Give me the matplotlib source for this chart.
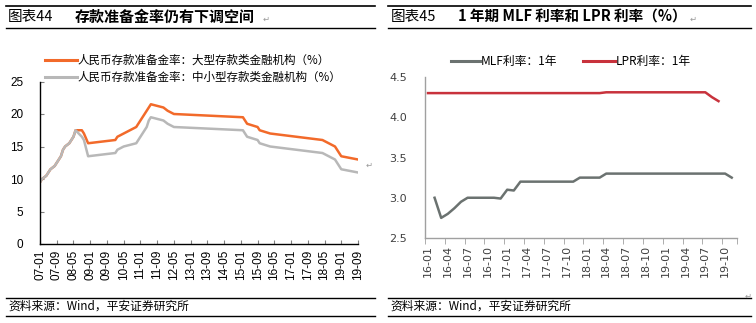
import matplotlib
matplotlib.use("Agg")
import matplotlib.pyplot as plt
from matplotlib.lines import Line2D

plt.rcParams['font.family'] = ['Noto Sans CJK SC', 'DejaVu Sans']

# ---------------- Data: left chart (reserve requirement ratio, %) ----------------
rrr_dates = ['07-01', '07-02', '07-04', '07-05', '07-06', '07-08', '07-09', '07-10', '07-11', '07-12',
             '08-01', '08-03', '08-04', '08-05', '08-06', '08-09', '08-10', '08-12',
             '10-01', '10-02', '10-05', '10-11', '10-12',
             '11-01', '11-02', '11-03', '11-04', '11-05', '11-06', '11-12',
             '12-02', '12-05', '15-02', '15-04', '15-09', '15-10', '16-03',
             '18-04', '18-10', '19-01', '19-09']
rrr_large = [9.5, 10.0, 10.5, 11.0, 11.5, 12.0, 12.5, 13.0, 13.5, 14.5,
             15.0, 15.5, 16.0, 16.5, 17.5, 17.5, 17.0, 15.5,
             16.0, 16.5, 17.0, 18.0, 18.5,
             19.0, 19.5, 20.0, 20.5, 21.0, 21.5, 21.0,
             20.5, 20.0, 19.5, 18.5, 18.0, 17.5, 17.0,
             16.0, 15.0, 13.5, 13.0]
rrr_small = [9.5, 10.0, 10.5, 11.0, 11.5, 12.0, 12.5, 13.0, 13.5, 14.5,
             15.0, 15.5, 16.0, 16.5, 17.5, 16.5, 16.0, 13.5,
             14.0, 14.5, 15.0, 15.5, 16.0,
             16.5, 17.0, 17.5, 18.0, 19.0, 19.5, 19.0,
             18.5, 18.0, 17.5, 16.5, 16.0, 15.5, 15.0,
             14.0, 13.0, 11.5, 11.0]
left_ticklabels = ['07-01', '07-09', '08-05', '09-01', '09-09', '10-05', '11-01', '11-09', '12-05', '13-01',
                   '13-09', '14-05', '15-01', '15-09', '16-05', '17-01', '17-09', '18-05', '19-01', '19-09']
left_labels = ['人民币存款准备金率：大型存款类金融机构（%）', '人民币存款准备金率：中小型存款类金融机构（%）']

# ---------------- Data: right chart (MLF & LPR 1Y, %) ----------------
rate_months = ['16-01', '16-02', '16-03', '16-04', '16-05', '16-06', '16-07', '16-08', '16-09', '16-10',
               '16-11', '16-12', '17-01', '17-02', '17-03', '17-04', '17-05', '17-06', '17-07', '17-08',
               '17-09', '17-10', '17-11', '17-12', '18-01', '18-02', '18-03', '18-04', '18-05', '18-06',
               '18-07', '18-08', '18-09', '18-10', '18-11', '18-12', '19-01', '19-02', '19-03', '19-04',
               '19-05', '19-06', '19-07', '19-08', '19-09', '19-10', '19-11']
mlf = [None, 3.0, 2.75, 2.8, 2.87, 2.95, 3.0, 3.0, 3.0, 3.0,
       3.0, 2.99, 3.1, 3.09, 3.2, 3.2, 3.2, 3.2, 3.2, 3.2,
       3.2, 3.2, 3.2, 3.25, 3.25, 3.25, 3.25, 3.3, 3.3, 3.3,
       3.3, 3.3, 3.3, 3.3, 3.3, 3.3, 3.3, 3.3, 3.3, 3.3,
       3.3, 3.3, 3.3, 3.3, 3.3, 3.3, 3.25]
lpr = [4.3] * 27 + [4.31] * 16 + [4.25, 4.2, None, None]
right_ticklabels = ['16-01', '16-04', '16-07', '16-10', '17-01', '17-04', '17-07', '17-10', '18-01',
                    '18-04', '18-07', '18-10', '19-01', '19-04', '19-07', '19-10']
right_labels = ['MLF利率：1年', 'LPR利率：1年']


def left_idx(s):
    yy, mm = s.split('-')
    return (int(yy) - 7) * 12 + int(mm) - 1


def right_idx(s):
    yy, mm = s.split('-')
    return (int(yy) - 16) * 12 + int(mm) - 1


W, H = 756, 323
fig = plt.figure(figsize=(W / 100, H / 100), dpi=100)
fig.patch.set_facecolor('white')


def fx(px):
    return px / W


def fy(py):
    return 1 - py / H


# ---------------- headers / footers ----------------
def hline(x0, x1, y, lw=1.2):
    fig.add_artist(Line2D([fx(x0), fx(x1)], [fy(y), fy(y)], color='black', lw=lw,
                          transform=fig.transFigure))


for (x0, x1) in [(6, 375), (388, 751)]:
    hline(x0, x1, 6)
    hline(x0, x1, 28, lw=1.0)
    hline(x0, x1, 298, lw=1.0)
    hline(x0, x1, 316, lw=1.0)

fig.text(fx(8), fy(17), '图表44', fontsize=10.5, va='center', ha='left')
fig.text(fx(75), fy(17), '存款准备金率仍有下调空间', fontsize=10.8, fontweight='bold', va='center', ha='left')
fig.text(fx(263), fy(19), '↵', fontsize=6, color='#999999', va='center', ha='left', family='DejaVu Sans')
fig.text(fx(391), fy(17), '图表45', fontsize=10.5, va='center', ha='left')
fig.text(fx(458), fy(17), '1 年期 MLF 利率和 LPR 利率（%）', fontsize=10.5, fontweight='bold',
         va='center', ha='left')
fig.text(fx(690), fy(19), '↵', fontsize=6, color='#999999', va='center', ha='left', family='DejaVu Sans')

for x0 in [8, 390]:
    fig.text(fx(x0), fy(306), '资料来源：Wind，平安证券研究所', fontsize=8.5, va='center', ha='left')
fig.text(fx(366), fy(165), '↵', fontsize=6, color='#999999', va='center', ha='left', family='DejaVu Sans')
fig.text(fx(745), fy(296), '↵', fontsize=6, color='#999999', va='center', ha='left', family='DejaVu Sans')

# ---------------- left chart ----------------
axL = fig.add_axes([fx(40), fy(244), fx(358) - fx(40), fy(81.5) - fy(244)])
xl = [left_idx(d) for d in rrr_dates]
orange = '#F26A2A'
lgray = '#B8B8B8'
axL.plot(xl, rrr_large, color=orange, lw=1.8, solid_joinstyle='round')
axL.plot(xl, rrr_small, color=lgray, lw=1.8, solid_joinstyle='round')
axL.set_xlim(0, 152)
axL.set_ylim(0, 25)
axL.set_yticks([0, 5, 10, 15, 20, 25])
axL.set_yticklabels(['0', '5', '10', '15', '20', '25'], family='Liberation Sans', fontsize=8.5)
axL.set_xticks([left_idx(t) for t in left_ticklabels])
axL.set_xticklabels(left_ticklabels, rotation=90, family='Liberation Sans', fontsize=8.5)
for s in ['top', 'right']:
    axL.spines[s].set_visible(False)
for s in ['left', 'bottom']:
    axL.spines[s].set_color('black')
    axL.spines[s].set_linewidth(1.0)
axL.tick_params(axis='both', direction='in', length=3, color='#808080', pad=4)
axL.tick_params(axis='y', pad=12)
axL.set_facecolor('none')

# left legend
for i, (lab, col) in enumerate(zip(left_labels, [orange, lgray])):
    y = [60, 77][i]
    fig.add_artist(Line2D([fx(45), fx(77)], [fy(y), fy(y)], color=col, lw=2.2, transform=fig.transFigure))
    fig.text(fx(78), fy(y), lab, fontsize=8.3, va='center', ha='left')

# ---------------- right chart ----------------
axR = fig.add_axes([fx(425), fy(238), fx(737) - fx(425), fy(77) - fy(238)])
xr = [right_idx(m) for m in rate_months]
mx = [x for x, v in zip(xr, mlf) if v is not None]
mv = [v for v in mlf if v is not None]
lx = [x for x, v in zip(xr, lpr) if v is not None]
lv = [v for v in lpr if v is not None]
mlf_col = '#6B7270'
lpr_col = '#C8323C'
axR.plot(mx, mv, color=mlf_col, lw=1.8, solid_joinstyle='round')
axR.plot(lx, lv, color=lpr_col, lw=1.8, solid_joinstyle='round')
axR.set_xlim(-0.45, 46.8)
axR.set_ylim(2.5, 4.5)
axR.set_yticks([2.5, 3.0, 3.5, 4.0, 4.5])
axR.set_yticklabels(['2.5', '3.0', '3.5', '4.0', '4.5'], family='DejaVu Sans', fontsize=8, color='#404040')
axR.set_xticks([right_idx(t) for t in right_ticklabels])
axR.set_xticklabels(right_ticklabels, rotation=90, family='DejaVu Sans', fontsize=8, color='#404040')
axR.set_xticks([right_idx(t) - 0.45 for t in right_ticklabels] + [46.8], minor=True)
for s in ['top', 'right']:
    axR.spines[s].set_visible(False)
for s in ['left', 'bottom']:
    axR.spines[s].set_color('#A0A0A0')
    axR.spines[s].set_linewidth(1.0)
axR.tick_params(axis='x', which='major', length=0, pad=5)
axR.tick_params(axis='x', which='minor', direction='out', length=4, color='#A0A0A0')
axR.tick_params(axis='y', length=0, pad=13)
axR.set_facecolor('none')

# right legend
for (x0, x1, lab, col) in [(451, 480, right_labels[0], mlf_col), (583, 615, right_labels[1], lpr_col)]:
    fig.add_artist(Line2D([fx(x0), fx(x1)], [fy(61), fy(61)], color=col, lw=2.2, transform=fig.transFigure))
    fig.text(fx(x1 + 0.5), fy(61), lab, fontsize=8.5, va='center', ha='left')

fig.savefig('out.png', dpi=100, facecolor='white')
